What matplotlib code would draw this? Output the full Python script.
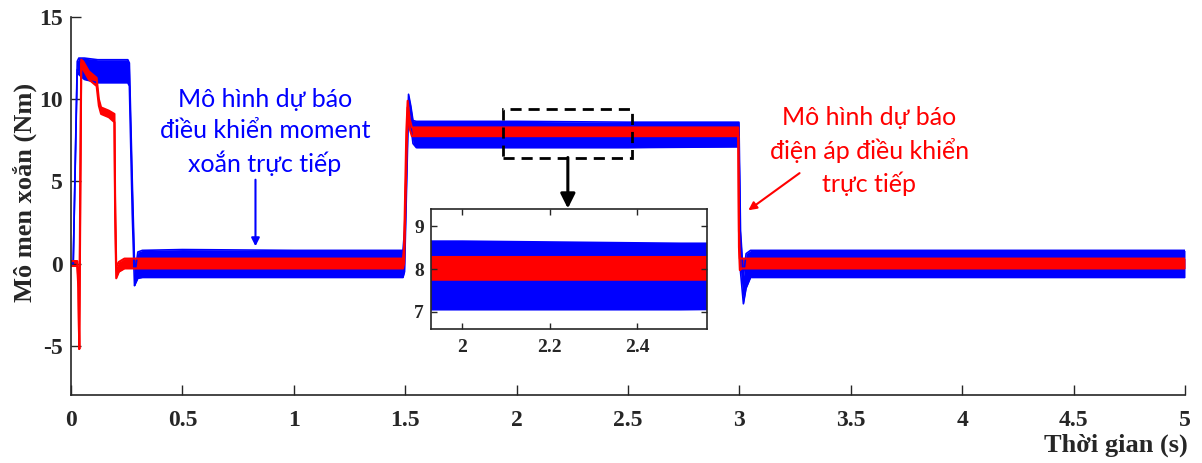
import matplotlib
matplotlib.use("Agg")
import matplotlib.pyplot as plt
from matplotlib.patches import Rectangle

# ---- data: envelopes of the noisy torque signals ----
# Blue: "Mô hình dự báo điều khiển moment xoắn trực tiếp"
t_blue = [0.000, 0.010, 0.028, 0.035, 0.060, 0.120, 0.200, 0.255, 0.262, 0.275, 0.285,
          0.290, 0.300, 0.320, 0.500, 1.000, 1.490, 1.497, 1.505, 1.515, 1.525, 1.535,
          1.550, 2.000, 2.500, 2.993, 2.998, 3.005, 3.018, 3.030, 3.050, 3.500, 4.000,
          4.500, 5.000]
blue_hi = [0.00, 0.00, 12.30, 12.50, 12.50, 12.40, 12.40, 12.40, 12.20, 5.00, 0.00,
           -0.30, 0.70, 0.80, 0.85, 0.80, 0.80, 2.00, 6.00, 10.30, 9.60, 8.70,
           8.65, 8.65, 8.60, 8.60, 8.60, 2.00, -0.80, 0.60, 0.80, 0.80, 0.80,
           0.80, 0.80]
blue_lo = [0.00, 0.00, 11.80, 11.50, 11.20, 11.00, 11.00, 11.00, 10.80, 3.00, -1.35,
           -1.20, -0.90, -0.85, -0.85, -0.85, -0.85, -0.50, 4.00, 9.60, 8.40, 7.30,
           7.05, 7.05, 7.05, 7.10, 7.10, -0.50, -2.45, -1.50, -0.85, -0.85, -0.85,
           -0.85, -0.85]

# Red: "Mô hình dự báo điện áp điều khiển trực tiếp"
t_red = [0.000, 0.028, 0.033, 0.037, 0.041, 0.046, 0.055, 0.080, 0.115, 0.125, 0.135,
         0.170, 0.195, 0.198, 0.203, 0.215, 0.240, 0.300, 1.000, 1.490, 1.495, 1.505,
         1.511, 1.520, 1.530, 2.000, 2.500, 2.995, 2.998, 3.002, 3.010, 3.500, 4.000,
         5.000]
red_hi = [0.15, 0.15, -1.00, -5.20, 4.00, 12.40, 12.30, 11.70, 11.30, 10.00, 9.50,
          9.30, 9.10, 4.00, -0.20, 0.10, 0.30, 0.30, 0.30, 0.30, 1.00, 8.00,
          9.90, 8.80, 8.28, 8.28, 8.28, 8.28, 2.00, 0.30, 0.30, 0.30, 0.30,
          0.30]
red_lo = [-0.15, -0.15, -1.50, -5.20, 2.00, 12.20, 11.80, 11.20, 10.80, 9.60, 9.10,
          8.90, 8.60, 3.00, -0.90, -0.50, -0.30, -0.30, -0.30, -0.30, 0.00, 6.00,
          9.50, 8.20, 7.75, 7.75, 7.75, 7.75, 1.00, -0.40, -0.30, -0.30, -0.30,
          -0.30]

x_ticks = [0, 0.5, 1, 1.5, 2, 2.5, 3, 3.5, 4, 4.5, 5]
x_ticklabels = ["0", "0.5", "1", "1.5", "2", "2.5", "3", "3.5", "4", "4.5", "5"]
y_ticks = [-5, 0, 5, 10, 15]
y_ticklabels = ["-5", "0", "5", "10", "15"]
inset_xticks = [2.0, 2.2, 2.4]
inset_xticklabels = ["2", "2.2", "2.4"]
inset_yticks = [7, 8, 9]

BLUE = "#0000FF"
RED = "#FF0000"
DARK = "#262626"
serif = ["Liberation Serif", "DejaVu Serif"]
sans = ["Lato", "Open Sans", "DejaVu Sans"]

plt.rcParams["font.family"] = serif
plt.rcParams["font.weight"] = "bold"
plt.rcParams["axes.unicode_minus"] = False

fig = plt.figure(figsize=(12.02, 4.63), dpi=100)
ax = fig.add_axes([71/1202, 68/463, (1185-71)/1202, (395-17)/463])


def draw_series(a):
    a.fill_between(t_blue, blue_lo, blue_hi, color=BLUE, lw=0)
    a.plot(t_blue, blue_hi, color=BLUE, lw=1.2)
    a.plot(t_blue, blue_lo, color=BLUE, lw=1.2)
    a.fill_between(t_red, red_lo, red_hi, color=RED, lw=0)
    a.plot(t_red, red_hi, color=RED, lw=1.5)
    a.plot(t_red, red_lo, color=RED, lw=1.5)


draw_series(ax)
ax.set_xlim(0, 5)
ax.set_ylim(-8, 15)
ax.set_xticks(x_ticks)
ax.set_xticklabels(x_ticklabels, fontsize=17, fontweight="bold", family=serif)
ax.set_yticks(y_ticks)
ax.set_yticklabels(y_ticklabels, fontsize=17, fontweight="bold", family=serif)
for s in ["top", "right"]:
    ax.spines[s].set_visible(False)
for s in ["left", "bottom"]:
    ax.spines[s].set_color(DARK)
    ax.spines[s].set_linewidth(1.2)
ax.tick_params(axis="both", direction="in", length=7, width=1, color=DARK,
               labelcolor=DARK)
ax.tick_params(axis="x", pad=11)
ax.tick_params(axis="y", pad=6)

fig.text(25/1202, 1-192/463, "Mô men xoắn (Nm)", rotation=90, ha="center",
         va="center", family=serif, fontweight="bold", fontsize=19, color=DARK)
fig.text(1188/1202, 11/463, "Thời gian (s)", ha="right", va="baseline",
         family=serif, fontweight="bold", fontsize=19, color=DARK)

# zoom rectangle and arrow
ax.add_patch(Rectangle((1.94, 6.45), 0.58, 2.95, fill=False, ls=(0, (4, 2.5)),
                       lw=2, ec="black", zorder=5))
ax.annotate("", xy=(2.23, 3.35), xytext=(2.23, 6.45),
            arrowprops=dict(arrowstyle="-|>", color="black", lw=2.2,
                            mutation_scale=22, shrinkA=0, shrinkB=0))

# annotations
ax.text(0.87, 8.0, "Mô hình dự báo\nđiều khiển moment\nxoắn trực tiếp",
        ha="center", va="center", color=BLUE, family=sans, fontweight="normal",
        fontsize=18, linespacing=1.42)
ax.annotate("", xy=(0.828, 1.05), xytext=(0.828, 5.1),
            arrowprops=dict(arrowstyle="-|>", color=BLUE, lw=1.5,
                            mutation_scale=12, shrinkA=0, shrinkB=0))
ax.text(3.583, 6.83, "Mô hình dự báo\nđiện áp điều khiển\ntrực tiếp",
        ha="center", va="center", color=RED, family=sans, fontweight="normal",
        fontsize=18, linespacing=1.42)
ax.annotate("", xy=(3.04, 3.24), xytext=(3.27, 5.5),
            arrowprops=dict(arrowstyle="-|>", color=RED, lw=1.5,
                            mutation_scale=12, shrinkA=0, shrinkB=0))

# inset
axi = fig.add_axes([431/1202, 134/463, (707-431)/1202, (329-209)/463])
draw_series(axi)
axi.set_xlim(1.929, 2.56)
axi.set_ylim(6.6, 9.4)
axi.set_xticks(inset_xticks)
axi.set_xticklabels(inset_xticklabels, fontsize=14, fontweight="bold", family=serif)
axi.set_yticks(inset_yticks)
axi.set_yticklabels([str(v) for v in inset_yticks], fontsize=14,
                    fontweight="bold", family=serif)
for s in axi.spines.values():
    s.set_color(DARK)
    s.set_linewidth(1.2)
axi.tick_params(axis="both", direction="in", length=4, width=1, color=DARK,
                labelcolor=DARK, top=True, right=True)
axi.tick_params(axis="x", pad=7)
axi.tick_params(axis="y", pad=5)

fig.savefig("out.png", dpi=100)
